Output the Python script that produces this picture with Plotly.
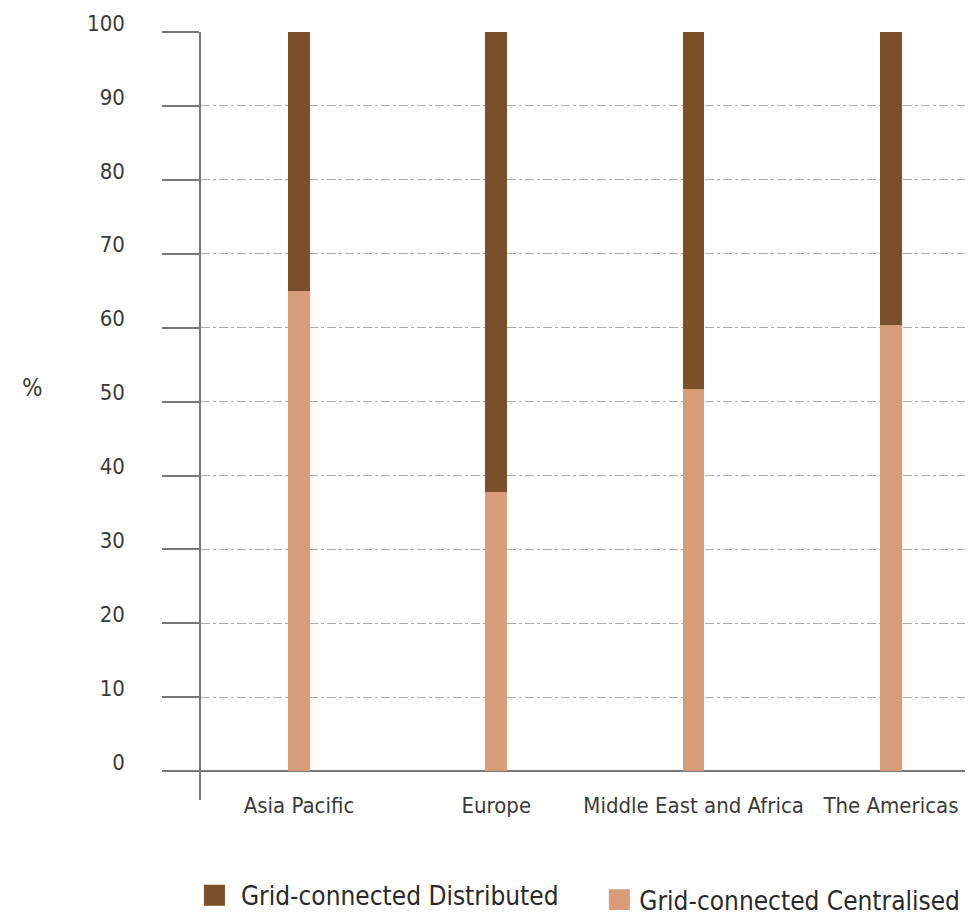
import plotly.graph_objects as go

regions = ["Asia Pacific", "Europe", "Middle East and Africa", "The Americas"]
centralised = [65.0, 37.8, 51.7, 60.4]
distributed = [35.0, 62.2, 48.3, 39.6]
y_ticks = [0, 10, 20, 30, 40, 50, 60, 70, 80, 90, 100]

FONT = "DejaVu Sans Condensed, sans-serif"
C_DIST = "#7A4F2A"
C_CENT = "#D99C78"
N_CENT = "Grid-connected Centralised"
N_DIST = "Grid-connected Distributed"

fig = go.Figure()
fig.add_trace(go.Bar(x=regions, y=centralised, name=N_CENT, legendgroup="c",
                     marker=dict(color=C_CENT, line=dict(width=0)), width=0.11,
                     showlegend=False))
fig.add_trace(go.Bar(x=regions, y=distributed, name=N_DIST, legendgroup="d",
                     marker=dict(color=C_DIST, line=dict(width=0)), width=0.11,
                     showlegend=False))
# legend keys (larger square swatches)
fig.add_trace(go.Scatter(x=[None], y=[None], mode="markers", name=N_DIST, legendgroup="d",
                         marker=dict(symbol="square", size=16, color=C_DIST,
                                     line=dict(width=5, color=C_DIST)),
                         legend="legend"))
fig.add_trace(go.Scatter(x=[None], y=[None], mode="markers", name=N_CENT, legendgroup="c",
                         marker=dict(symbol="square", size=16, color=C_CENT,
                                     line=dict(width=5, color=C_CENT)),
                         legend="legend2"))

legend_common = dict(orientation="h", xanchor="left", yanchor="middle",
                     font=dict(size=26, color="#2a2a2a"), bgcolor="rgba(0,0,0,0)")

fig.update_layout(
    width=965, height=902,
    barmode="stack",
    plot_bgcolor="white", paper_bgcolor="white",
    margin=dict(l=193, r=0, t=24, b=110, autoexpand=False),
    font=dict(family=FONT, size=22, color="#3a3a3a"),
    showlegend=True,
    legend=dict(x=-0.0169, y=-0.124, itemwidth=43, **legend_common),
    legend2=dict(x=0.516, y=-0.130, itemwidth=30, **legend_common),
    xaxis=dict(range=[-0.497, 3.416], showgrid=False, showline=False, ticks="",
               zeroline=False, ticklabelstandoff=-10, tickfont=dict(size=22),
               automargin=False),
    yaxis=dict(range=[-3.9, 100], tickvals=y_ticks, showgrid=True,
               gridcolor="#aaaaaa", griddash="dashdot", gridwidth=1,
               showline=True, linecolor="#777777", linewidth=1.5,
               ticks="outside", ticklen=37, tickcolor="#777777", tickwidth=1.5,
               zeroline=True, zerolinecolor="#777777", zerolinewidth=1.5,
               ticklabelstandoff=33, ticklabelshift=-9, tickfont=dict(size=22),
               automargin=False),
)
fig.add_annotation(text="%", xref="paper", yref="y", x=-0.234, y=50, showarrow=False,
                   font=dict(size=24, color="#3a3a3a"), yshift=14)

fig.write_html("out.html")
